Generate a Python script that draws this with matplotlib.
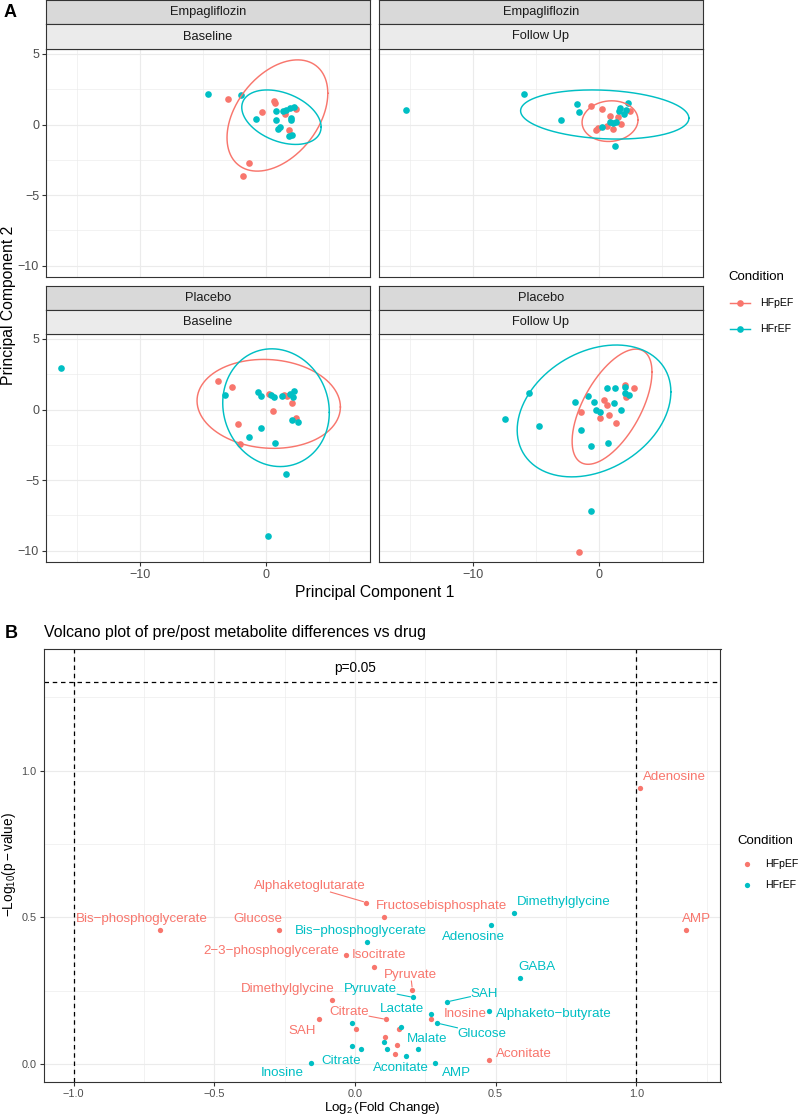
import numpy as np
import matplotlib
matplotlib.use("Agg")
import matplotlib.pyplot as plt
from matplotlib.lines import Line2D

plt.rcParams['font.family'] = ['Liberation Sans', 'DejaVu Sans']
plt.rcParams['mathtext.fontset'] = 'custom'
plt.rcParams['mathtext.rm'] = 'Liberation Sans'
plt.rcParams['mathtext.it'] = 'Liberation Sans:italic'
plt.rcParams['axes.unicode_minus'] = True

# ---------------- Panel A data (PCA scores) ----------------
emp_base_hfpef_pc1 = [-3.04, 0.61, 0.69, -0.34, 1.53, 2.41, 1.85, -1.35, -1.80]
emp_base_hfpef_pc2 = [1.84, 1.70, 1.51, 0.92, 0.75, 1.08, -0.42, -2.76, -3.68]
emp_base_hfref_pc1 = [-4.63, -1.98, 0.77, -0.82, 0.77, 1.38, 1.61, 1.88, 2.20, 1.98, 2.01, 1.14, 0.95, 1.83, 2.04]
emp_base_hfref_pc2 = [2.17, 2.10, 0.97, 0.40, 0.33, 0.94, 1.04, 1.16, 1.27, 0.47, 0.35, -0.14, -0.31, -0.78, -0.71]

emp_fu_hfpef_pc1 = [-0.68, 0.21, 0.85, 1.48, 1.72, 0.66, -0.26, -0.05, 1.11, 2.48]
emp_fu_hfpef_pc2 = [1.30, 1.09, 0.57, 0.52, 0.05, -0.09, -0.38, -0.26, -0.35, 0.95]
emp_fu_hfref_pc1 = [-15.30, -5.99, -1.79, -1.61, -3.06, 1.64, 1.58, 2.33, 2.11, 1.96, 0.24, 0.85, 1.11, 1.37, 1.30]
emp_fu_hfref_pc2 = [1.01, 2.19, 1.42, 0.90, 0.31, 1.18, 0.99, 1.49, 1.04, 0.78, -0.19, 0.21, 0.14, 0.19, -1.51]

pla_base_hfpef_pc1 = [-3.78, -2.70, 0.21, 1.40, 1.67, 2.04, 0.53, 2.38, -2.20, -2.04]
pla_base_hfpef_pc2 = [2.04, 1.57, 1.08, 1.03, 0.94, 0.49, -0.12, -0.59, -1.01, -2.44]
pla_base_hfref_pc1 = [-16.30, -3.23, -0.61, -0.40, 0.40, 0.66, 1.30, 1.93, 2.20, 2.12, 2.09, 2.51, -0.42, -1.32, 0.74, 1.59, 0.19]
pla_base_hfref_pc2 = [2.93, 1.03, 1.22, 0.99, 1.01, 0.89, 0.99, 1.13, 1.29, 0.89, -0.77, -0.89, -1.34, -1.97, -2.35, -4.60, -8.97]

pla_fu_hfpef_pc1 = [-1.42, 0.40, 0.63, 0.11, 0.82, 1.35, 2.06, 2.11, 2.80, -1.58]
pla_fu_hfpef_pc2 = [-0.19, 0.70, 0.35, -0.59, -0.40, -0.94, 1.74, 0.87, 1.50, -10.07]
pla_fu_hfref_pc1 = [-7.47, -5.54, -4.75, -1.95, -0.90, -1.42, -0.40, -0.24, 0.11, 0.61, 1.29, 1.16, 1.72, 2.06, 2.06, 2.37, -0.63, 0.74, -0.61]
pla_fu_hfref_pc2 = [-0.66, 1.17, -1.15, 0.52, 0.99, -1.48, 0.52, -0.02, -0.21, 1.50, 1.50, 0.45, -0.02, 1.62, 1.15, 1.03, -2.61, -2.37, -7.18]

# 95% ellipses: centre x, centre y, half-extent x, half-extent y, correlation
ell_emp_base_hfpef = [0.90, 0.64, 4.00, 3.94, 0.40]
ell_emp_base_hfref = [1.22, 0.52, 3.15, 1.93, -0.36]
ell_emp_fu_hfpef = [0.87, 0.24, 2.22, 1.44, 0.06]
ell_emp_fu_hfref = [0.45, 0.71, 6.68, 1.74, -0.15]
ell_pla_base_hfpef = [0.21, 0.40, 5.69, 3.15, -0.07]
ell_pla_base_hfref = [0.79, 0.13, 4.23, 4.17, -0.08]
ell_pla_fu_hfpef = [1.03, 0.20, 3.17, 4.08, 0.60]
ell_pla_fu_hfref = [-0.40, -0.10, 6.10, 4.67, 0.29]

drugs = ["Empagliflozin", "Placebo"]
visits = ["Baseline", "Follow Up"]
conditions = ["HFpEF", "HFrEF"]

# ---------------- Panel B data (volcano) ----------------
hfpef_names = ["Alphaketoglutarate", "Fructosebisphosphate", "Glucose", "2\u22123\u2212phosphoglycerate",
               "Isocitrate", "Pyruvate", "Dimethylglycine", "Citrate", "SAH", "Inosine", "Aconitate",
               "Bis\u2212phosphoglycerate", "Adenosine", "AMP", "", "", "", "", ""]
hfpef_log2fc = [0.040, 0.103, -0.269, -0.033, 0.067, 0.204, -0.082, 0.111, -0.127, 0.270, 0.478,
                -0.694, 1.013, 1.177, 0.004, 0.158, 0.105, 0.149, 0.143]
hfpef_nlogp = [0.551, 0.502, 0.458, 0.371, 0.331, 0.254, 0.219, 0.153, 0.153, 0.153, 0.014,
               0.458, 0.942, 0.458, 0.121, 0.121, 0.093, 0.065, 0.037]

hfref_names = ["Dimethylglycine", "Adenosine", "Bis\u2212phosphoglycerate", "GABA", "Pyruvate", "SAH",
               "Lactate", "Alphaketo\u2212butyrate", "Glucose", "Malate", "Citrate", "Aconitate", "AMP",
               "Inosine", "", "", "", "", ""]
hfref_log2fc = [0.566, 0.483, 0.041, 0.587, 0.207, 0.328, 0.269, 0.477, 0.290, 0.225, -0.011, 0.183,
                0.286, -0.157, -0.011, 0.163, 0.103, 0.113, 0.023]
hfref_nlogp = [0.517, 0.476, 0.417, 0.293, 0.228, 0.213, 0.170, 0.183, 0.141, 0.051, 0.064, 0.028,
               0.006, 0.006, 0.141, 0.127, 0.076, 0.051, 0.051]

p_cut = 0.05
fc_cut = 1.0

# ---------------- layout ----------------
W, H = 800, 1117
RED, TEAL = '#F8766D', '#00BFC4'
COLS = {"HFpEF": RED, "HFrEF": TEAL}
BORDER = '#333333'
GRID = '#EBEBEB'
TICKC = '#4D4D4D'


def rect(x0, y0, x1, y1):
    return [x0 / W, 1 - y1 / H, (x1 - x0) / W, (y1 - y0) / H]


def fy(y):
    return 1 - y / H


fig = plt.figure(figsize=(W / 100, H / 100), dpi=100)

# label positions for the volcano plot (layout only)
lab_pos_hfpef = {
    "Alphaketoglutarate": (-0.160, 0.607), "Fructosebisphosphate": (0.306, 0.539),
    "Glucose": (-0.346, 0.494), "2\u22123\u2212phosphoglycerate": (-0.298, 0.385),
    "Isocitrate": (0.087, 0.372), "Pyruvate": (0.198, 0.304), "Dimethylglycine": (-0.240, 0.256),
    "Citrate": (-0.020, 0.177), "SAH": (-0.189, 0.113), "Inosine": (0.392, 0.173),
    "Aconitate": (0.602, 0.037), "Bis\u2212phosphoglycerate": (-0.756, 0.494),
    "Adenosine": (1.137, 0.977), "AMP": (1.214, 0.494)}
lab_pos_hfref = {
    "Dimethylglycine": (0.743, 0.553), "Adenosine": (0.421, 0.434),
    "Bis\u2212phosphoglycerate": (0.020, 0.454), "GABA": (0.648, 0.332), "Pyruvate": (0.056, 0.257),
    "SAH": (0.459, 0.241), "Lactate": (0.168, 0.187), "Alphaketo\u2212butyrate": (0.708, 0.173),
    "Glucose": (0.451, 0.105), "Malate": (0.256, 0.086), "Citrate": (-0.048, 0.012),
    "Aconitate": (0.162, -0.014), "AMP": (0.360, -0.031), "Inosine": (-0.258, -0.029)}
seg_hfpef = {"Alphaketoglutarate", "Pyruvate", "Citrate"}
seg_hfref = {"Pyruvate", "SAH", "Glucose"}

# ---------------- Panel A ----------------
facets = {
    (0, 0): (emp_base_hfpef_pc1, emp_base_hfpef_pc2, emp_base_hfref_pc1, emp_base_hfref_pc2,
             ell_emp_base_hfpef, ell_emp_base_hfref),
    (0, 1): (emp_fu_hfpef_pc1, emp_fu_hfpef_pc2, emp_fu_hfref_pc1, emp_fu_hfref_pc2,
             ell_emp_fu_hfpef, ell_emp_fu_hfref),
    (1, 0): (pla_base_hfpef_pc1, pla_base_hfpef_pc2, pla_base_hfref_pc1, pla_base_hfref_pc2,
             ell_pla_base_hfpef, ell_pla_base_hfref),
    (1, 1): (pla_fu_hfpef_pc1, pla_fu_hfpef_pc2, pla_fu_hfref_pc1, pla_fu_hfref_pc2,
             ell_pla_fu_hfpef, ell_pla_fu_hfref),
}
col_x = [(46, 370), (379, 703)]
row_y = [(0, 24, 49, 277), (286, 309.5, 334, 562)]  # strip1 top, strip2 top, panel top, panel bottom


def ellipse_xy(p):
    cx, cy, sx, sy, rho = p
    t = np.linspace(0, 2 * np.pi, 300)
    d = np.arccos(rho)
    return cx + sx * np.cos(t), cy + sy * np.cos(t - d)


for (r, c), (x1, y1, x2, y2, e1, e2) in facets.items():
    xa, xb = col_x[c]
    s1, s2, pt, pb = row_y[r]
    ax = fig.add_axes(rect(xa, pt, xb, pb))
    ax.set_xlim(-17.47, 8.25)
    ax.set_ylim(-10.8, 5.35)
    ax.set_xticks([-10, 0])
    ax.set_xticks([-15, -5, 5], minor=True)
    ax.set_yticks([-10, -5, 0, 5])
    ax.set_yticks([-7.5, -2.5, 2.5], minor=True)
    ax.grid(which='major', color=GRID, lw=0.85)
    ax.grid(which='minor', color=GRID, lw=0.45)
    ax.set_axisbelow(True)
    for sp in ax.spines.values():
        sp.set_color(BORDER)
        sp.set_linewidth(0.8)
    ax.tick_params(which='major', length=3, width=0.8, color=BORDER, labelcolor=TICKC, labelsize=9, pad=2)
    ax.tick_params(which='minor', length=0)
    if r == 0:
        ax.tick_params(axis='x', which='major', length=0, labelbottom=False)
    if c == 1:
        ax.tick_params(axis='y', which='major', length=0, labelleft=False)
    ax.scatter(x1, y1, s=23, color=RED, linewidths=0, zorder=3)
    ax.scatter(x2, y2, s=23, color=TEAL, linewidths=0, zorder=3)
    ex, ey = ellipse_xy(e1)
    ax.plot(ex, ey, color=RED, lw=1.05, zorder=4)
    ex, ey = ellipse_xy(e2)
    ax.plot(ex, ey, color=TEAL, lw=1.05, zorder=4)
    # strips
    for (ya, yb, txt, fc) in [(s1, s2, drugs[r], '#D9D9D9'), (s2, pt, visits[c], '#EBEBEB')]:
        sax = fig.add_axes(rect(xa, ya, xb, yb))
        sax.set_facecolor(fc)
        sax.set_xticks([])
        sax.set_yticks([])
        for sp in sax.spines.values():
            sp.set_color(BORDER)
            sp.set_linewidth(0.8)
        sax.text(0.5, 0.5, txt, ha='center', va='center', fontsize=9.3, color='#1A1A1A',
                 transform=sax.transAxes)

fig.text(4 / W, fy(12.5), "A", fontsize=13, fontweight='bold', ha='left', va='center')
fig.text(374.5 / W, fy(592), "Principal Component 1", fontsize=11.3, ha='center', va='center')
fig.text(8.5 / W, fy(305.5), "Principal Component 2", fontsize=11.3, ha='center', va='center',
         rotation=90)

# legend A
fig.text(728 / W, fy(277), "Condition", fontsize=9.5, ha='left', va='center')
for i, cond in enumerate(conditions):
    yy = fy(303.3 + 25.7 * i)
    fig.add_artist(Line2D([730 / W, 750 / W], [yy, yy], color=COLS[cond], lw=1.05))
    fig.add_artist(Line2D([740 / W], [yy], color=COLS[cond], marker='o', ms=4.8, mew=0, ls='none'))
    fig.text(760 / W, yy, cond, fontsize=7.6, ha='left', va='center')

# ---------------- Panel B ----------------
axb = fig.add_axes(rect(43.5, 649, 720.5, 1082))
axb.set_xlim(-1.107, 1.299)
axb.set_ylim(-0.060, 1.414)
axb.set_xticks([-1.0, -0.5, 0.0, 0.5, 1.0])
axb.set_xticklabels(["\u22121.0", "\u22120.5", "0.0", "0.5", "1.0"])
axb.set_xticks([-0.75, -0.25, 0.25, 0.75, 1.25], minor=True)
axb.set_yticks([0.0, 0.5, 1.0])
axb.set_yticklabels(["0.0", "0.5", "1.0"])
axb.set_yticks([0.25, 0.75, 1.25], minor=True)
axb.grid(which='major', color=GRID, lw=0.85)
axb.grid(which='minor', color=GRID, lw=0.45)
axb.set_axisbelow(True)
for sp in axb.spines.values():
    sp.set_color(BORDER)
    sp.set_linewidth(0.8)
axb.tick_params(which='major', length=3, width=0.8, color=BORDER, labelcolor=TICKC, labelsize=7.8, pad=2)
axb.tick_params(which='minor', length=0)

dash = (0, (3.6, 3.0))
axb.axvline(-fc_cut, color='black', lw=0.9, ls=dash, zorder=2)
axb.axvline(fc_cut, color='black', lw=0.9, ls=dash, zorder=2)
axb.axhline(-np.log10(p_cut), color='black', lw=0.9, ls=dash, zorder=2)
axb.text(0.0, 1.35, "p=0.05", fontsize=9.8, ha='center', va='center')

axb.scatter(hfpef_log2fc, hfpef_nlogp, s=14.5, color=RED, linewidths=0, zorder=3)
axb.scatter(hfref_log2fc, hfref_nlogp, s=14.5, color=TEAL, linewidths=0, zorder=3)

texts = []
for names, xs, ys, pos, segs, col in [
        (hfpef_names, hfpef_log2fc, hfpef_nlogp, lab_pos_hfpef, seg_hfpef, RED),
        (hfref_names, hfref_log2fc, hfref_nlogp, lab_pos_hfref, seg_hfref, TEAL)]:
    for n, x, y in zip(names, xs, ys):
        if not n:
            continue
        lx, ly = pos[n]
        t = axb.text(lx, ly, n, color=col, fontsize=9.6, ha='center', va='center', zorder=4)
        if n in segs:
            texts.append((t, x, y, col))

fig.canvas.draw()
renderer = fig.canvas.get_renderer()
inv = axb.transData.inverted()


def enter(p, d, lo, hi):
    if d == 0:
        return 0.0
    if p < lo:
        return (lo - p) / d
    if p > hi:
        return (hi - p) / d
    return 0.0


for t, x, y, col in texts:
    bb = t.get_window_extent(renderer)
    px, py = axb.transData.transform((x, y))
    cx, cy = (bb.x0 + bb.x1) / 2, (bb.y0 + bb.y1) / 2
    dx, dy = cx - px, cy - py
    tt = max(enter(px, dx, bb.x0, bb.x1), enter(py, dy, bb.y0, bb.y1))
    qx, qy = px + tt * dx, py + tt * dy
    dist = np.hypot(dx, dy)
    sx, sy = px + dx / dist * 3.0, py + dy / dist * 3.0
    (ax0, ay0), (ax1, ay1) = inv.transform((sx, sy)), inv.transform((qx, qy))
    axb.plot([ax0, ax1], [ay0, ay1], color=col, lw=0.8, zorder=3)

fig.text(382 / W, fy(1116.5), r"$\mathrm{Log}_{2}\,(\mathrm{Fold\ Change})$", fontsize=9.6,
         ha='center', va='bottom')
fig.text(9 / W, fy(865), r"$-\mathrm{Log}_{10}(\mathrm{p}-\mathrm{value})$", fontsize=9.8,
         ha='center', va='center', rotation=90)

fig.text(5 / W, fy(634), "B", fontsize=13, fontweight='bold', ha='left', va='center')
fig.text(43.6 / W, fy(633), "Volcano plot of pre/post metabolite differences vs drug", fontsize=11.4,
         ha='left', va='center')

# legend B
fig.text(737 / W, fy(841), "Condition", fontsize=9.5, ha='left', va='center')
for i, cond in enumerate(conditions):
    yy = fy(864 + 21 * i)
    fig.add_artist(Line2D([747 / W], [yy], color=COLS[cond], marker='o', ms=3.8, mew=0, ls='none'))
    fig.text(765 / W, yy, cond, fontsize=7.6, ha='left', va='center')

fig.savefig("out.png", dpi=100)
